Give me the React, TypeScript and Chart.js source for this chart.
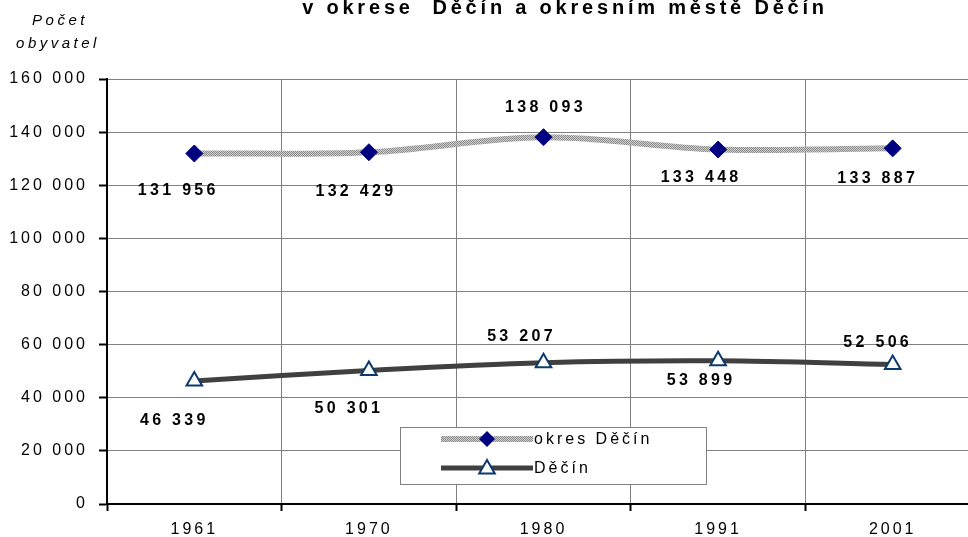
import React, { useEffect, useRef } from 'react';
import { Chart, registerables } from 'chart.js';

Chart.register(...registerables);

const years = ['1961', '1970', '1980', '1991', '2001'];
const okresValues = [131956, 132429, 138093, 133448, 133887];
const mestoValues = [46339, 50301, 53207, 53899, 52506];
const seriesNames = ['okres Děčín', 'Děčín'];
const titleText = 'v okrese  Děčín a okresním městě Děčín';
const yAxisTitle = ['Počet', 'obyvatel'];
const yMin = 0;
const yMax = 160000;
const yStep = 20000;

// value-label offsets relative to their point (dx, dy)
const okresLabelOffsets = [[-18, 37], [-15, 39], [0, -30], [-19, 28], [-17, 30]];
const mestoLabelOffsets = [[-22, 40], [-22, 38], [-24, -26], [-19, 20], [-17, -22]];

const FONT = '"Liberation Sans", Arial, Helvetica, sans-serif';
const SPACING = '3px';
const NAVY = '#000080';
const TRI_BORDER = '#0b3a6e';
const DARK_LINE = '#404040';

const fmt = (v: number) => String(v).replace(/\B(?=(\d{3})+(?!\d))/g, ' ');

function makePattern(): CanvasPattern | string {
  const c = document.createElement('canvas');
  c.width = 2;
  c.height = 2;
  const g = c.getContext('2d');
  if (!g) return '#b0b0b0';
  g.fillStyle = '#d2d2d2';
  g.fillRect(0, 0, 2, 2);
  g.fillStyle = '#888888';
  g.fillRect(0, 0, 1, 1);
  g.fillRect(1, 1, 1, 1);
  const p = g.createPattern(c, 'repeat');
  return p || '#b0b0b0';
}

function diamond(ctx: CanvasRenderingContext2D, x: number, y: number, r: number) {
  ctx.beginPath();
  ctx.moveTo(x, y - r);
  ctx.lineTo(x + r, y);
  ctx.lineTo(x, y + r);
  ctx.lineTo(x - r, y);
  ctx.closePath();
  ctx.fillStyle = NAVY;
  ctx.fill();
}

function triangle(ctx: CanvasRenderingContext2D, x: number, y: number, r: number) {
  ctx.beginPath();
  ctx.moveTo(x, y - r);
  ctx.lineTo(x + r * Math.sin(Math.PI * 2 / 3), y + r / 2);
  ctx.lineTo(x - r * Math.sin(Math.PI * 2 / 3), y + r / 2);
  ctx.closePath();
  ctx.fillStyle = '#fff';
  ctx.fill();
  ctx.lineWidth = 2;
  ctx.strokeStyle = TRI_BORDER;
  ctx.stroke();
}

const spacingPlugin = {
  id: 'spacing',
  beforeInit(chart: any) { chart.ctx.letterSpacing = SPACING; },
  beforeUpdate(chart: any) { chart.ctx.letterSpacing = SPACING; },
  beforeDraw(chart: any) { chart.ctx.letterSpacing = SPACING; },
};

const labelPlugin = {
  id: 'valueLabels',
  afterDatasetsDraw(chart: any) {
    const ctx = chart.ctx as CanvasRenderingContext2D;
    ctx.save();
    (ctx as any).letterSpacing = '3.3px';
    ctx.font = `bold 16px ${FONT}`;
    ctx.fillStyle = '#000';
    ctx.textAlign = 'center';
    ctx.textBaseline = 'middle';
    chart.data.datasets.forEach((ds: any, i: number) => {
      const meta = chart.getDatasetMeta(i);
      meta.data.forEach((pt: any, j: number) => {
        const [dx, dy] = ds.labelOffsets[j];
        ctx.fillText(fmt(ds.data[j]), pt.x + dx + 2, pt.y + dy);
      });
    });
    ctx.restore();
  },
};

const decorPlugin = {
  id: 'decor',
  afterDraw(chart: any) {
    const ctx = chart.ctx as CanvasRenderingContext2D;
    const a = chart.chartArea;
    ctx.save();
    // title (clipped at top)
    ctx.font = `bold 20px ${FONT}`;
    (ctx as any).letterSpacing = '3.8px';
    ctx.fillStyle = '#000';
    ctx.textAlign = 'center';
    ctx.textBaseline = 'alphabetic';
    ctx.fillText(titleText, 565, 14);
    // y-axis title
    (ctx as any).letterSpacing = '3.5px';
    ctx.font = `italic 15px ${FONT}`;
    ctx.fillText(yAxisTitle[0], 60, 25);
    ctx.fillText(yAxisTitle[1], 58, 48);

    // legend
    (ctx as any).letterSpacing = SPACING;
    const lx = a.left + 293;
    const ly = a.top + 348;
    const lw = 306;
    const lh = 57;
    ctx.fillStyle = '#fff';
    ctx.fillRect(lx, ly, lw, lh);
    ctx.strokeStyle = '#808080';
    ctx.lineWidth = 1;
    ctx.strokeRect(lx + 0.5, ly + 0.5, lw, lh);
    const ds = chart.data.datasets;
    const rows = [ly + 12, ly + 41];
    ds.forEach((d: any, i: number) => {
      const y = rows[i];
      ctx.beginPath();
      ctx.moveTo(lx + 41, y);
      ctx.lineTo(lx + 133, y);
      ctx.lineWidth = d.borderWidth;
      ctx.strokeStyle = d.borderColor;
      ctx.stroke();
      if (i === 0) diamond(ctx, lx + 87, y, 8);
      else triangle(ctx, lx + 87, y + 1, 9);
      ctx.font = `16px ${FONT}`;
      ctx.fillStyle = '#000';
      ctx.textAlign = 'left';
      ctx.textBaseline = 'middle';
      ctx.fillText(d.label, lx + 134, y + 1);
    });
    ctx.restore();
  },
};

export default function App() {
  const ref = useRef<HTMLCanvasElement>(null);
  useEffect(() => {
    if (!ref.current) return;
    const pattern = makePattern();
    const chart = new Chart(ref.current, {
      type: 'line',
      data: {
        labels: years,
        datasets: [
          {
            label: seriesNames[0],
            data: okresValues,
            borderColor: pattern as any,
            borderWidth: 6,
            tension: 0.35,
            pointStyle: 'rectRot',
            pointRadius: 8.5,
            pointBackgroundColor: NAVY,
            pointBorderColor: NAVY,
            pointBorderWidth: 1,
            labelOffsets: okresLabelOffsets,
          } as any,
          {
            label: seriesNames[1],
            data: mestoValues,
            borderColor: DARK_LINE,
            borderWidth: 5,
            tension: 0.35,
            pointStyle: 'triangle',
            pointRadius: 9,
            pointBackgroundColor: '#fff',
            pointBorderColor: TRI_BORDER,
            pointBorderWidth: 2,
            labelOffsets: mestoLabelOffsets,
          } as any,
        ],
      },
      options: {
        animation: false,
        responsive: false,
        devicePixelRatio: 1,
        layout: { padding: { top: 79, right: 20, bottom: 0, left: 0 } },
        plugins: {
          legend: { display: false },
          title: { display: false },
          tooltip: { enabled: false },
        },
        scales: {
          x: {
            type: 'category',
            offset: true,
            grid: {
              offset: true,
              color: '#808080',
              lineWidth: 1,
              tickColor: '#000',
              tickLength: 7,
              tickWidth: 2,
            },
            border: { color: '#000', width: 2 },
            ticks: {
              color: '#000',
              font: { family: FONT, size: 16 },
              padding: 9,
              maxRotation: 0,
              autoSkip: false,
            },
            afterFit: (s: any) => { s.height = 33; },
          },
          y: {
            min: yMin,
            max: yMax,
            grid: {
              color: '#808080',
              lineWidth: 1,
              tickColor: '#000',
              tickLength: 8,
              tickWidth: 2,
            },
            border: { color: '#000', width: 2 },
            ticks: {
              stepSize: yStep,
              color: '#000',
              font: { family: FONT, size: 16 },
              padding: 11,
              callback: (v: any) => fmt(Number(v)),
            },
            afterFit: (s: any) => { s.width = 107; },
          },
        },
      },
      plugins: [spacingPlugin, labelPlugin, decorPlugin],
    });
    return () => chart.destroy();
  }, []);
  return (
    <div style={{ position: 'fixed', left: 0, top: 0, width: 968, height: 537, overflow: 'hidden', background: '#fff' }}>
      <canvas ref={ref} width={1000} height={537} style={{ display: 'block', width: 1000, height: 537 }} />
    </div>
  );
}
